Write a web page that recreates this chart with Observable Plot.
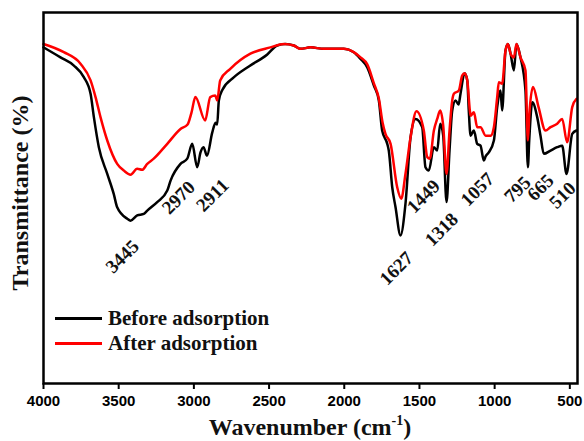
<!DOCTYPE html>
<html>
<head>
<meta charset="utf-8">
<script src="https://cdn.jsdelivr.net/npm/d3@7"></script>
<script src="https://cdn.jsdelivr.net/npm/@observablehq/plot@0.6"></script>
<style>
  html, body { margin: 0; padding: 0; background: #fff; }
  #wrap { position: relative; width: 584px; height: 441px; }
  #legend { position: absolute; left: 55px; top: 306px; font-family: "Liberation Serif", "Times New Roman", serif; font-weight: bold; font-size: 21px; color: #111; }
  #legend .row { display: flex; align-items: center; height: 25px; white-space: nowrap; }
  #legend .sw { display: inline-block; width: 47px; height: 3px; margin-right: 6px; }
</style>
</head>
<body>
<div id="wrap"><div id="legend"></div></div>
<script>
// Series: wavenumber (cm-1) and transmittance (%, arbitrary scale)
const wavenumberBefore = [4000,3887,3798,3732,3687,3665,3632,3576,3533,3510,3443,3421,3377,3333,3310,3244,3177,3155,3089,3044,3011,2978,2956,2936,2913,2878,2856,2845,2834,2810,2735,2637,2512,2446,2391,2336,2291,2224,2136,2003,1937,1892,1847,1803,1770,1748,1714,1704,1681,1659,1626,1593,1559,1526,1482,1460,1438,1404,1382,1362,1342,1320,1300,1282,1260,1240,1227,1200,1182,1172,1160,1138,1116,1094,1072,1060,1039,1005,983,961,950,928,912,894,872,855,828,795,779,770,750,717,695,673,628,584,551,522,484,456];
const transBefore = [90.6,87.9,85.7,82.6,78.1,71.8,63.7,56.5,51.1,47.5,44.4,43.9,45.3,45.7,46.6,48.9,52.0,54.7,59.2,60.6,64.6,58.3,62.3,63.7,61.4,67.6,70.3,69.8,76.3,79.2,82.5,85.4,88.7,91.1,91.5,91.1,90.2,90.6,90.2,90.2,89.3,87.5,85.2,80.3,76.3,68.2,64.6,62.8,52.9,47.5,39.9,48.4,66.4,71.3,69.1,58.3,57.4,63.7,62.8,70.0,66.8,48.9,62.8,73.6,76.3,75.2,78.1,83.6,81.7,73.6,66.8,68.2,64.6,64.1,60.1,61.2,62.3,65.5,74.5,79.0,73.6,89.7,91.5,88.9,84.4,91.5,87.9,79.0,58.3,65.5,75.8,71.8,66.8,61.9,62.8,63.7,64.1,56.5,67.3,68.2];

const wavenumberAfter = [4000,3865,3754,3687,3654,3621,3576,3510,3466,3421,3377,3344,3310,3267,3177,3089,3042,3016,2990,2925,2891,2858,2845,2825,2758,2624,2491,2402,2336,2291,2224,2136,2003,1937,1892,1847,1803,1770,1745,1726,1692,1648,1621,1593,1559,1520,1471,1448,1431,1404,1382,1362,1342,1320,1300,1282,1271,1238,1216,1200,1182,1165,1160,1138,1116,1094,1060,1027,1005,983,972,950,928,912,894,872,855,828,795,779,770,745,708,662,628,584,551,518,484,456];
const transAfter = [91.5,89.3,86.2,81.7,77.2,71.8,65.5,59.2,57.4,56.3,57.9,57.6,59.2,60.6,64.6,68.6,69.8,73.0,77.2,70.9,77.2,77.6,76.3,81.7,84.8,88.9,90.6,91.5,91.1,90.2,90.6,90.2,90.2,89.3,87.9,86.0,80.9,76.8,70.3,67.3,64.6,52.9,49.8,56.5,66.4,73.4,68.2,61.0,60.6,68.2,71.3,73.6,69.5,56.5,68.2,76.3,78.1,79.0,83.0,83.6,81.7,73.6,72.2,73.1,69.1,69.1,66.8,66.8,69.1,77.2,81.2,80.8,89.7,91.5,88.9,87.9,91.5,87.9,84.4,65.5,72.2,79.9,74.5,68.2,69.1,70.0,71.3,65.0,74.5,76.7];

// Peak annotations: label text and the centre of each label (wavenumber, transmittance)
const peakLabels = ["3445","2970","2911","1627","1449","1318","1057","795","665","510"];
const peakLabelX = [3475,3102,2876,1653,1473,1353,1114,848,695,549];
const peakLabelY = [34.2,50.1,50.7,31.0,50.4,41.5,52.3,52.3,52.8,50.7];

const xTicks = [4000,3500,3000,2500,2000,1500,1000,500];
const seriesNames = ["Before adsorption","After adsorption"];
const seriesColors = ["#000000","#ff0000"];

const before = wavenumberBefore.map((w,i) => ({w, t: transBefore[i]}));
const after = wavenumberAfter.map((w,i) => ({w, t: transAfter[i]}));
const peaks = peakLabels.map((s,i) => ({s, w: peakLabelX[i], t: peakLabelY[i]}));

const serif = '"Liberation Serif", "Times New Roman", serif';
const sans = '"Liberation Sans", Arial, sans-serif';

const chart = Plot.plot({
  width: 584,
  height: 441,
  marginLeft: 43,
  marginRight: 7,
  marginTop: 12,
  marginBottom: 58,
  style: {background: "#fff", color: "#000", overflow: "visible"},
  x: {domain: [4000, 449]},
  y: {domain: [0, 100], axis: null},
  marks: [
    Plot.axisX({ticks: xTicks, tickFormat: d => String(d), tickSize: 6, tickPadding: 6, strokeWidth: 2,
                fontSize: 15, fontWeight: "bold", fontFamily: sans, label: null}),
    Plot.line(before, {x: "w", y: "t", stroke: seriesColors[0], strokeWidth: 2.5, strokeLinejoin: "round", curve: "monotone-x"}),
    Plot.line(after, {x: "w", y: "t", stroke: seriesColors[1], strokeWidth: 2.5, strokeLinejoin: "round", curve: "monotone-x"}),
    Plot.text(peaks, {x: "w", y: "t", text: "s", rotate: -45, textAnchor: "middle", lineAnchor: "middle",
                      fontSize: 19, fontWeight: "bold", fontFamily: serif, fill: "#111"}),
    Plot.text(["Transmittance (%)"], {frameAnchor: "left", rotate: -90, dx: -23, dy: -5, textAnchor: "middle",
                      lineAnchor: "middle", fontSize: 24, fontWeight: "bold", fontFamily: serif, fill: "#111"}),
    Plot.frame({stroke: "#000", strokeWidth: 2.5})
  ]
});

// x-axis title with superscript
const svg = d3.select(chart);
const t = svg.append("text")
  .attr("x", 310).attr("y", 435)
  .attr("text-anchor", "middle")
  .attr("font-family", serif).attr("font-weight", "bold").attr("font-size", 24).attr("fill", "#111");
t.append("tspan").text("Wavenumber (cm");
t.append("tspan").attr("font-size", 14).attr("dy", -10).text("-1");
t.append("tspan").attr("dy", 10).text(")");

document.getElementById("wrap").prepend(chart);

const legend = d3.select("#legend");
seriesNames.forEach((name, i) => {
  const row = legend.append("div").attr("class", "row");
  row.append("span").attr("class", "sw").style("background", seriesColors[i]);
  row.append("span").text(name);
});
</script>
</body>
</html>
